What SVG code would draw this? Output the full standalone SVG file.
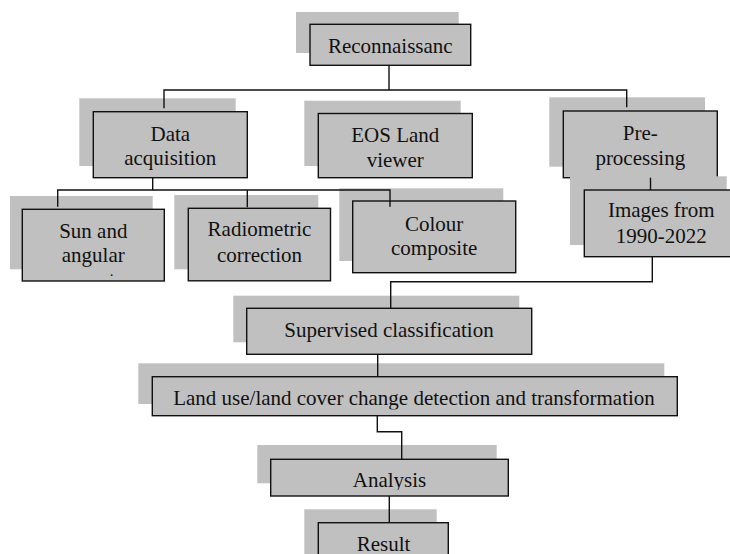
<svg xmlns="http://www.w3.org/2000/svg" width="730" height="554" viewBox="0 0 730 554">
<style>
.sh{fill:#c0c0c0;stroke:none}
.bx{fill:#c0c0c0;stroke:#111;stroke-width:1.4}
.t{font-family:"Liberation Serif","Times New Roman",serif;font-size:21px;fill:#111;text-anchor:middle}
.c{fill:none;stroke:#111;stroke-width:1.4}
</style>
<defs>
<clipPath id="clipLand"><rect x="150" y="370" width="530" height="39.5"/></clipPath>
<clipPath id="clipAna"><rect x="268" y="455" width="245" height="35"/></clipPath>
</defs>
<rect width="730" height="554" fill="#fff"/>
<g id="reconnaissance">
<rect class="sh" x="296" y="12" width="162.7" height="41"/>
<rect class="bx" x="310" y="24.3" width="160.7" height="41"/>
<text class="t" x="390.3" y="53.3">Reconnaissanc</text>
</g>
<g id="data-acquisition">
<rect class="sh" x="79.3" y="98.3" width="156.4" height="67.7"/>
<rect class="bx" x="93.3" y="111.7" width="154" height="66"/>
<text class="t" x="170.3" y="141">Data</text>
<text class="t" x="170.3" y="165">acquisition</text>
</g>
<g id="eos-land-viewer">
<rect class="sh" x="304.3" y="100.7" width="156.4" height="65.3"/>
<rect class="bx" x="318.3" y="113.5" width="154" height="64.2"/>
<text class="t" x="395.3" y="141.7">EOS Land</text>
<text class="t" x="395.3" y="166.5">viewer</text>
</g>
<g id="pre-processing">
<rect class="sh" x="549.3" y="97.3" width="155.7" height="69.4"/>
<rect class="bx" x="563.3" y="111" width="154" height="66.7"/>
<text class="t" x="640.3" y="140">Pre-</text>
<text class="t" x="640.3" y="165">processing</text>
</g>
<g id="sun-angular">
<rect class="sh" x="10" y="196" width="142.7" height="73.3"/>
<rect class="bx" x="22.3" y="209.3" width="142" height="71.7"/>
<text class="t" x="93.3" y="238.3">Sun and</text>
<text class="t" x="93.3" y="261.7">angular</text>
<text class="t" x="111.5" y="276" style="font-size:11px;font-weight:bold">.</text>
</g>
<g id="radiometric-correction">
<rect class="sh" x="174.3" y="195" width="144" height="74.3"/>
<rect class="bx" x="188.3" y="208.3" width="142.2" height="72.5"/>
<text class="t" x="259.5" y="235.7">Radiometric</text>
<text class="t" x="259.5" y="262">correction</text>
</g>
<g id="colour-composite">
<rect class="sh" x="339.3" y="188.3" width="164" height="72.7"/>
<rect class="bx" x="352.7" y="201" width="163" height="71.7"/>
<text class="t" x="434.2" y="230.7">Colour</text>
<text class="t" x="434.2" y="255">composite</text>
</g>
<g id="images">
<rect class="sh" x="570" y="176.3" width="156.7" height="68.7"/>
<rect class="bx" x="584.3" y="190" width="155" height="66.7"/>
<text class="t" x="661.3" y="217.3">Images from</text>
<text class="t" x="661.3" y="242.7">1990-2022</text>
</g>
<g id="supervised-classification">
<rect class="sh" x="233.3" y="295.7" width="286" height="46.6"/>
<rect class="bx" x="246.7" y="308.3" width="285" height="46"/>
<text class="t" x="389" y="336.7">Supervised classification</text>
</g>
<g id="land-use">
<rect class="sh" x="138.3" y="363.3" width="526" height="40.7"/>
<rect class="bx" x="152.3" y="376.7" width="525" height="39"/>
<text class="t" x="414" y="405" clip-path="url(#clipLand)">Land use/land cover change detection and transformation</text>
</g>
<g id="analysis">
<rect class="sh" x="257.3" y="445" width="239.4" height="38.3"/>
<rect class="bx" x="270.7" y="459.3" width="237.6" height="36.7"/>
<text class="t" x="389.5" y="487.3" clip-path="url(#clipAna)">Analysis</text>
</g>
<g id="result">
<rect class="sh" x="304.3" y="509.3" width="132.4" height="50"/>
<rect class="bx" x="318.3" y="522.7" width="130" height="45"/>
<text class="t" x="383.5" y="551">Result</text>
</g>
<g id="connectors">
<path class="c" d="M389 65.3V90M164 108.3V90H626.7V107.3"/>
<path class="c" d="M152.7 177.7V190M57.7 206.7V190H390V206.7M247.3 190V207.3"/>
<path class="c" d="M650.5 177.7V190"/>
<path class="c" d="M652.3 256.7V281.7H390.7V308.3"/>
<path class="c" d="M377.7 354.3V376.7"/>
<path class="c" d="M377.3 415.7V431.7H401.7V459.3"/>
<path class="c" d="M389.3 496V522.7"/>
</g>
</svg>
